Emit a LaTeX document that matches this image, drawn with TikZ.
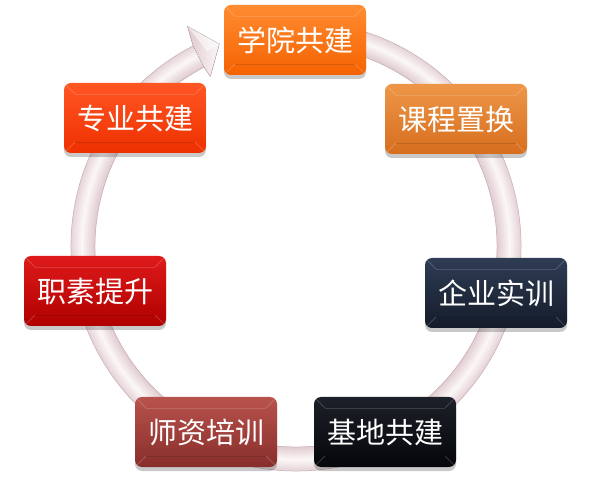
\documentclass[tikz,border=0pt]{standalone}
\usepackage{fontspec}
\newfontfamily\cjk{Noto Sans CJK SC}
\usetikzlibrary{shadows}
\definecolor{ringdark}{HTML}{D6BCC1}
\definecolor{ringlight}{HTML}{FCF7F8}
\definecolor{ringedge}{HTML}{C8AEB3}
\tikzset{
  stagebox/.style={rounded corners=7pt, minimum width=142pt, minimum height=70pt,
    inner sep=0pt, text=white, font=\cjk\fontsize{29}{32}\selectfont,
    drop shadow={opacity=0.3, shadow xshift=0pt, shadow yshift=-4pt, fill=black!70},
    path picture={
      \draw[white, opacity=0.18, line width=0.8pt]
        (path picture bounding box.north west) -- ++(11pt,-11pt)
        (path picture bounding box.north east) -- ++(-11pt,-11pt)
        (path picture bounding box.south west) -- ++(11pt,11pt)
        (path picture bounding box.south east) -- ++(-11pt,11pt);
      \draw[black, opacity=0.12, line width=0.8pt]
        ([shift={(11pt,11pt)}]path picture bounding box.south west) --
        ([shift={(-11pt,11pt)}]path picture bounding box.south east);
      \draw[white, opacity=0.15, line width=0.8pt]
        ([shift={(11pt,-11pt)}]path picture bounding box.north west) --
        ([shift={(-11pt,-11pt)}]path picture bounding box.north east);
    }},
  ringoutline/.style={ringedge, line width=0.5pt}
}
\begin{document}
\begin{tikzpicture}[x=1pt,y=1pt]
\useasboundingbox (0,0) rectangle (592,485);
\coordinate (C) at (296,239);
% ring band built from concentric arcs
\foreach \i in {0,...,11} {
  \pgfmathsetmacro\rr{213-12+(\i+0.5)*2}
  \pgfmathsetmacro\tt{(\i+0.5)/12}
  \pgfmathsetmacro\pp{ifthenelse(\tt<0.55, 25+75*\tt/0.55, 100-60*(\tt-0.55)/0.45)}
  \draw[line width=2.4pt, color=ringlight!\pp!ringdark]
    ([shift={(C)}]80:\rr pt) arc[start angle=80, end angle=-244, radius=\rr pt];
}
\draw[ringoutline] ([shift={(C)}]80:201pt) arc[start angle=80, end angle=-244, radius=201pt];
\draw[ringoutline] ([shift={(C)}]80:225pt) arc[start angle=80, end angle=-244, radius=225pt];
% arrow head
\coordinate (hA) at ([shift={(C)}]117.2:225pt);
\coordinate (hB) at ([shift={(C)}]116.3:245pt);
\coordinate (hT) at ([shift={(C)}]110.8:216pt);
\coordinate (hD) at ([shift={(C)}]116.8:190pt);
\coordinate (hE) at ([shift={(C)}]117.2:201pt);
\fill[left color=ringdark!80!white, right color=ringlight] (hA) -- (hB) -- (hT) -- (hD) -- (hE) -- cycle;
\draw[ringoutline] (hA) -- (hB) -- (hT) -- (hD) -- (hE);
\fill[white, opacity=0.5] (hB) -- (hT) -- ([shift={(C)}]114.5:214pt) -- cycle;
% stages
\node[stagebox, top color={rgb,255:red,255;green,140;blue,50}, bottom color={rgb,255:red,245;green,98;blue,0}] (s1) at (295,445) {学院共建};
\node[stagebox, top color={rgb,255:red,238;green,150;blue,72}, bottom color={rgb,255:red,214;green,110;blue,30}] (s2) at (456,366) {课程置换};
\node[stagebox, top color={rgb,255:red,46;green,60;blue,84}, bottom color={rgb,255:red,20;green,28;blue,42}] (s3) at (496,192) {企业实训};
\node[stagebox, top color={rgb,255:red,28;green,32;blue,40}, bottom color={rgb,255:red,5;green,7;blue,10}] (s4) at (385,53) {基地共建};
\node[stagebox, top color={rgb,255:red,184;green,82;blue,77}, bottom color={rgb,255:red,136;green,46;blue,42}] (s5) at (206,53) {师资培训};
\node[stagebox, top color={rgb,255:red,222;green,26;blue,26}, bottom color={rgb,255:red,176;green,0;blue,0}] (s6) at (95,194) {职素提升};
\node[stagebox, top color={rgb,255:red,255;green,86;blue,36}, bottom color={rgb,255:red,238;green,48;blue,0}] (s7) at (135,367) {专业共建};
\end{tikzpicture}
\end{document}
